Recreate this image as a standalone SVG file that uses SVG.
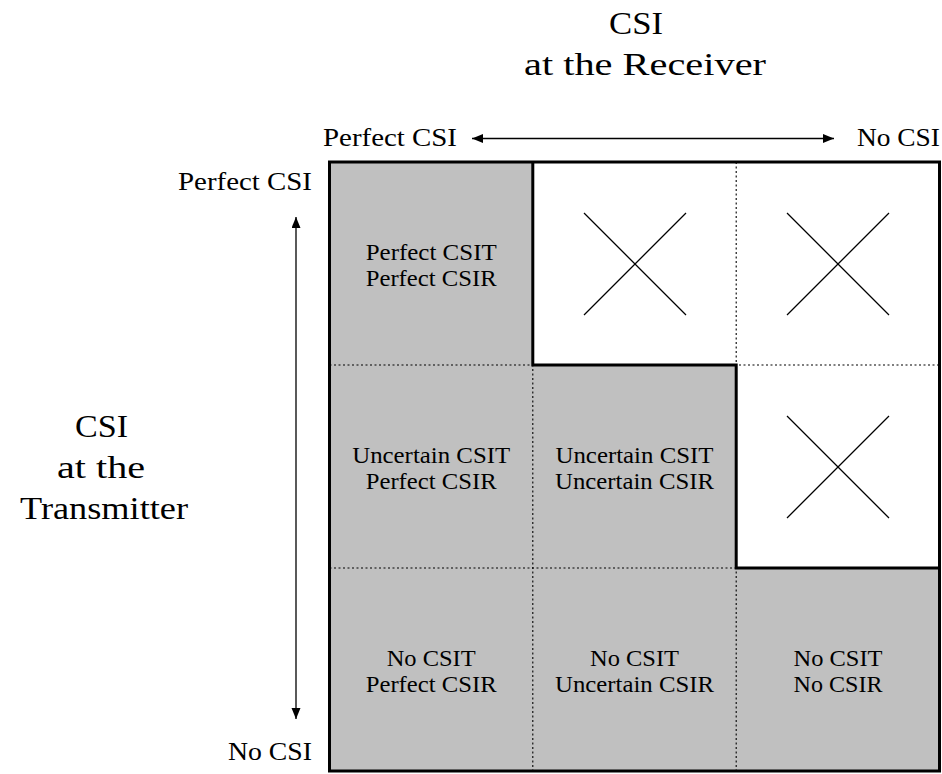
<svg xmlns="http://www.w3.org/2000/svg" width="942" height="774" viewBox="0 0 942 774">
<style>
text{font-family:"Liberation Serif","DejaVu Serif",serif;fill:#000}
.title{font-size:32px}
.lab{font-size:25px}
.cell{font-size:23px;text-anchor:middle}
.dot{stroke:#000;stroke-width:1.1;stroke-dasharray:2 2.5;fill:none}
.thick{stroke:#000;stroke-width:3;fill:none}
.cross{stroke:#000;stroke-width:1.3}
.arr{stroke:#000;stroke-width:1.3;fill:none;marker-start:url(#ah);marker-end:url(#ah)}
</style>
<defs>
<marker id="ah" markerUnits="userSpaceOnUse" markerWidth="12" markerHeight="10" refX="11" refY="4.5" orient="auto-start-reverse">
<path d="M0,0 L11,4.5 L0,9 z" fill="#000"/>
</marker>
</defs>
<rect x="0" y="0" width="942" height="774" fill="#fff"/>

<g id="titles">
<text class="title" x="609" y="34" textLength="54" lengthAdjust="spacingAndGlyphs">CSI</text>
<text class="title" x="524" y="75" textLength="242" lengthAdjust="spacingAndGlyphs">at the Receiver</text>
<text class="title" x="75" y="437" textLength="53" lengthAdjust="spacingAndGlyphs">CSI</text>
<text class="title" x="57" y="478" textLength="88" lengthAdjust="spacingAndGlyphs">at the</text>
<text class="title" x="20" y="519" textLength="168" lengthAdjust="spacingAndGlyphs">Transmitter</text>
</g>

<g id="axis-labels">
<text class="lab" x="323" y="146" textLength="134" lengthAdjust="spacingAndGlyphs">Perfect CSI</text>
<text class="lab" x="857" y="146" textLength="83" lengthAdjust="spacingAndGlyphs">No CSI</text>
<text class="lab" x="178" y="190" textLength="134" lengthAdjust="spacingAndGlyphs">Perfect CSI</text>
<text class="lab" x="228" y="760" textLength="84" lengthAdjust="spacingAndGlyphs">No CSI</text>
</g>

<g id="connectors">
<line class="arr" x1="472" y1="138.5" x2="834" y2="138.5"/>
<line class="arr" x1="296" y1="217" x2="296" y2="719"/>
</g>

<g id="grid">
<rect x="329.5" y="162" width="610" height="609" fill="#c0c0c0"/>
<polygon points="532.8,162 939.5,162 939.5,568 736.2,568 736.2,365 532.8,365" fill="#fff"/>
<line class="dot" x1="329.5" y1="365" x2="939.5" y2="365"/>
<line class="dot" x1="329.5" y1="568" x2="939.5" y2="568"/>
<line class="dot" x1="532.8" y1="162" x2="532.8" y2="771"/>
<line class="dot" x1="736.2" y1="162" x2="736.2" y2="771"/>
<polyline class="thick" points="532.8,162 532.8,365 736.2,365 736.2,568 939.5,568"/>
<rect class="thick" x="329.5" y="162" width="610" height="609"/>
</g>

<g id="cell-r1c1">
<text class="cell" x="431.2" y="260" textLength="131" lengthAdjust="spacingAndGlyphs">Perfect CSIT</text>
<text class="cell" x="431.2" y="285.5" textLength="131" lengthAdjust="spacingAndGlyphs">Perfect CSIR</text>
</g>
<g id="cell-r1c2"><line class="cross" x1="584" y1="213" x2="686" y2="315"/><line class="cross" x1="686" y1="213" x2="584" y2="315"/></g>
<g id="cell-r1c3"><line class="cross" x1="787" y1="213" x2="889" y2="315"/><line class="cross" x1="889" y1="213" x2="787" y2="315"/></g>

<g id="cell-r2c1">
<text class="cell" x="431.2" y="463" textLength="158" lengthAdjust="spacingAndGlyphs">Uncertain CSIT</text>
<text class="cell" x="431.2" y="488.5" textLength="131" lengthAdjust="spacingAndGlyphs">Perfect CSIR</text>
</g>
<g id="cell-r2c2">
<text class="cell" x="634.5" y="463" textLength="158" lengthAdjust="spacingAndGlyphs">Uncertain CSIT</text>
<text class="cell" x="634.5" y="488.5" textLength="159" lengthAdjust="spacingAndGlyphs">Uncertain CSIR</text>
</g>
<g id="cell-r2c3"><line class="cross" x1="787" y1="416" x2="889" y2="518"/><line class="cross" x1="889" y1="416" x2="787" y2="518"/></g>

<g id="cell-r3c1">
<text class="cell" x="431.2" y="666" textLength="89" lengthAdjust="spacingAndGlyphs">No CSIT</text>
<text class="cell" x="431.2" y="691.5" textLength="131" lengthAdjust="spacingAndGlyphs">Perfect CSIR</text>
</g>
<g id="cell-r3c2">
<text class="cell" x="634.5" y="666" textLength="89" lengthAdjust="spacingAndGlyphs">No CSIT</text>
<text class="cell" x="634.5" y="691.5" textLength="159" lengthAdjust="spacingAndGlyphs">Uncertain CSIR</text>
</g>
<g id="cell-r3c3">
<text class="cell" x="838" y="666" textLength="89" lengthAdjust="spacingAndGlyphs">No CSIT</text>
<text class="cell" x="838" y="691.5" textLength="89" lengthAdjust="spacingAndGlyphs">No CSIR</text>
</g>
</svg>
